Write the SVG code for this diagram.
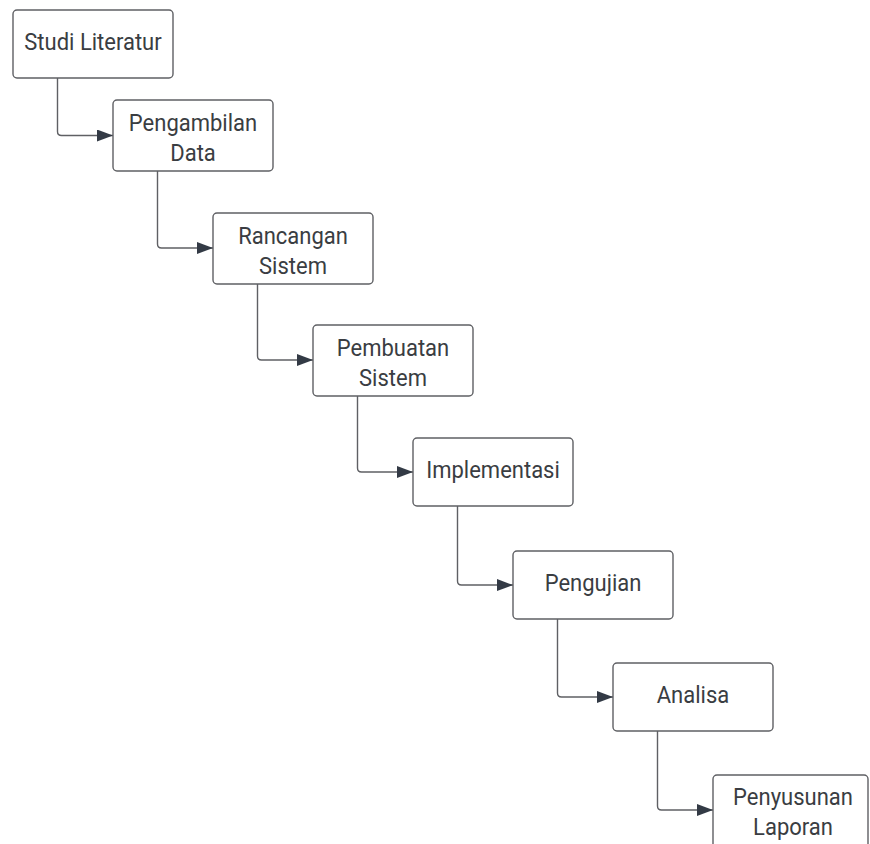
<svg xmlns="http://www.w3.org/2000/svg" width="870" height="844" viewBox="0 0 870 844">
<defs>
<style>
.box{fill:#ffffff;stroke:#5f6064;stroke-width:1.4}
.t{font-family:Roboto,"Liberation Sans",sans-serif;font-size:22px;fill:#3a3d42;text-anchor:middle}
.c{fill:none;stroke:#5f6064;stroke-width:1.4}
</style>
<marker id="ah" viewBox="0 0 16 12" refX="16" refY="6" markerWidth="16" markerHeight="12" markerUnits="userSpaceOnUse" orient="auto">
<path d="M0,0 L16,6 L0,12 Z" fill="#333a45"/>
</marker>
</defs>
<rect width="870" height="844" fill="#ffffff"/>
<g id="connectors">
<path class="c" marker-end="url(#ah)" d="M57.5,78 V131.5 Q57.5,135.5 61.5,135.5 H113"/>
<path class="c" marker-end="url(#ah)" d="M157.5,171 V244 Q157.5,248 161.5,248 H213"/>
<path class="c" marker-end="url(#ah)" d="M257.5,284 V356 Q257.5,360 261.5,360 H313"/>
<path class="c" marker-end="url(#ah)" d="M357.5,396 V468 Q357.5,472 361.5,472 H413"/>
<path class="c" marker-end="url(#ah)" d="M457.5,506 V581 Q457.5,585 461.5,585 H513"/>
<path class="c" marker-end="url(#ah)" d="M557.5,619 V693 Q557.5,697 561.5,697 H613"/>
<path class="c" marker-end="url(#ah)" d="M657.5,731 V806 Q657.5,810 661.5,810 H713"/>
</g>
<g id="n1"><rect class="box" x="13" y="10" width="160" height="68" rx="4"/><text class="t" transform="translate(93,49.5) scale(1,1.09)">Studi Literatur</text></g>
<g id="n2"><rect class="box" x="113" y="100" width="160" height="71" rx="4"/><text class="t" transform="translate(193,130.5) scale(1,1.09)">Pengambilan</text><text class="t" transform="translate(193,160.5) scale(1,1.09)">Data</text></g>
<g id="n3"><rect class="box" x="213" y="213" width="160" height="71" rx="4"/><text class="t" transform="translate(293,243.5) scale(1,1.09)">Rancangan</text><text class="t" transform="translate(293,273.5) scale(1,1.09)">Sistem</text></g>
<g id="n4"><rect class="box" x="313" y="325" width="160" height="71" rx="4"/><text class="t" transform="translate(393,355.5) scale(1,1.09)">Pembuatan</text><text class="t" transform="translate(393,385.5) scale(1,1.09)">Sistem</text></g>
<g id="n5"><rect class="box" x="413" y="438" width="160" height="68" rx="4"/><text class="t" transform="translate(493,477.5) scale(1,1.09)">Implementasi</text></g>
<g id="n6"><rect class="box" x="513" y="551" width="160" height="68" rx="4"/><text class="t" transform="translate(593,590.5) scale(1,1.09)">Pengujian</text></g>
<g id="n7"><rect class="box" x="613" y="663" width="160" height="68" rx="4"/><text class="t" transform="translate(693,702.5) scale(1,1.09)">Analisa</text></g>
<g id="n8"><rect class="box" x="713" y="775" width="155" height="75" rx="4"/><text class="t" transform="translate(793,805) scale(1,1.09)">Penyusunan</text><text class="t" transform="translate(793,835) scale(1,1.09)">Laporan</text></g>
</svg>
